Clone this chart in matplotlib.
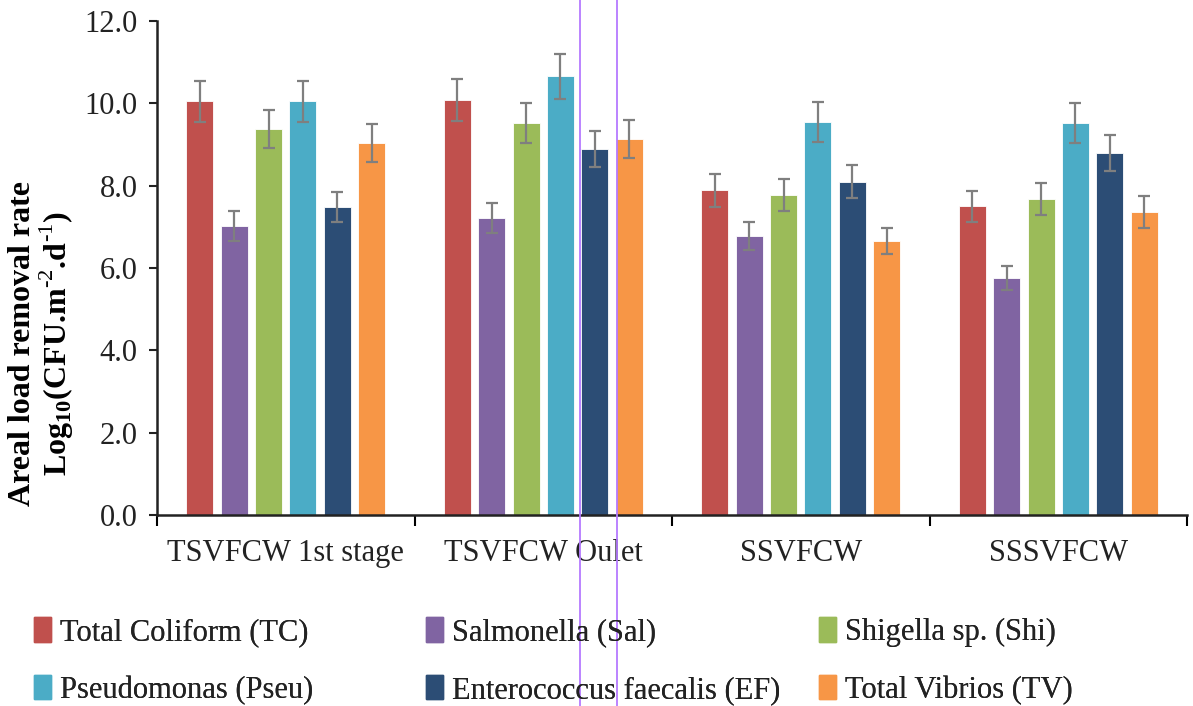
import matplotlib
matplotlib.use('Agg')
import matplotlib.pyplot as plt
import matplotlib.patches as mpatches
from matplotlib.lines import Line2D
import numpy as np

plt.rcParams['font.family'] = ['Liberation Serif', 'DejaVu Serif']
plt.rcParams['mathtext.fontset'] = 'custom'
plt.rcParams['mathtext.rm'] = 'Liberation Serif'
plt.rcParams['mathtext.bf'] = 'Liberation Serif:bold'

# data
groups = ['TSVFCW 1st stage', 'TSVFCW Oulet', 'SSVFCW', 'SSSVFCW']
series = ['Total Coliform (TC)', 'Salmonella (Sal)', 'Shigella sp. (Shi)',
          'Pseudomonas (Pseu)', 'Enterococcus faecalis (EF)', 'Total Vibrios (TV)']
colors = ['#C0504D', '#8064A2', '#9BBB59', '#4BACC6', '#2C4D75', '#F79646']

tc = [10.05, 10.08, 7.89, 7.50]
sal = [7.02, 7.21, 6.78, 5.76]
shi = [9.38, 9.52, 7.77, 7.68]
pseu = [10.05, 10.66, 9.55, 9.52]
ef = [7.48, 8.89, 8.10, 8.79]
tv = [9.04, 9.13, 6.66, 7.36]

tc_err = [0.50, 0.50, 0.40, 0.38]
sal_err = [0.37, 0.36, 0.34, 0.30]
shi_err = [0.47, 0.48, 0.39, 0.39]
pseu_err = [0.50, 0.55, 0.48, 0.48]
ef_err = [0.37, 0.44, 0.41, 0.44]
tv_err = [0.46, 0.46, 0.32, 0.38]

values = [tc, sal, shi, pseu, ef, tv]
errors = [tc_err, sal_err, shi_err, pseu_err, ef_err, tv_err]

fig = plt.figure(figsize=(11.93, 7.06), dpi=100)
ax = fig.add_axes([157/1193, 1-515/706, (1187-157)/1193, (515-21)/706])

x = np.arange(len(groups))
pitch = 0.1336
bw = 0.105
for i in range(len(series)):
    ax.bar(x + (i - 2.5) * pitch, values[i], bw, color=colors[i],
           edgecolor='white', linewidth=0.6, label=series[i],
           yerr=errors[i], ecolor='#7f7f7f',
           error_kw=dict(elinewidth=1.6, capsize=4.5, capthick=1.6))

ax.set_xlim(-0.5, 3.5)
ax.set_ylim(0, 12)
ax.set_yticks(np.arange(0, 12.1, 2))
ax.set_yticklabels(['%.1f' % v for v in np.arange(0, 12.1, 2)])
ax.set_xticks(np.arange(-0.5, 3.6, 1))
ax.set_xticklabels([])
ax.set_xticks(x, minor=True)
ax.set_xticklabels(groups, minor=True)
ax.tick_params(axis='x', which='major', length=8, width=1.5, direction='out')
ax.tick_params(axis='x', which='minor', length=0, pad=17, labelsize=22, colors='#222222')
ax.tick_params(axis='y', length=6, width=1.5, direction='out', labelsize=22, pad=8, colors='#222222')
for s in ['top', 'right']:
    ax.spines[s].set_visible(False)
for s in ['left', 'bottom']:
    ax.spines[s].set_linewidth(1.8)
    ax.spines[s].set_color('#222222')

fig.text(42/1193, 1-344/706,
         'Areal load removal rate\nLog$_{\\mathbf{10}}$(CFU.m$^{\\text{-2}}$.d$^{\\text{-1}}$)',
         rotation=90, ha='center', va='center', ma='center',
         fontsize=23, fontweight='bold', linespacing=1.0)

# legend in three columns
handles = [mpatches.Patch(color=c, label=s) for c, s in zip(colors, series)]
col_x = [22/1193, 414/1193, 807/1193]
for k in range(3):
    lg = fig.legend(handles=[handles[k], handles[k + 3]], loc='upper left',
                    bbox_to_anchor=(col_x[k], 1-605/706), frameon=False,
                    fontsize=22, handlelength=0.55, handleheight=0.85,
                    handletextpad=0.3, labelspacing=0.92, borderaxespad=0)
    for t in lg.get_texts():
        t.set_color('#222222')
    fig.add_artist(lg)

# purple guide lines present in the picture
for px in [580, 617]:
    fig.add_artist(Line2D([px/1193, px/1193], [0, 1], transform=fig.transFigure,
                          color='#b57aff', linewidth=1.3))

fig.savefig('out.png', dpi=100)
